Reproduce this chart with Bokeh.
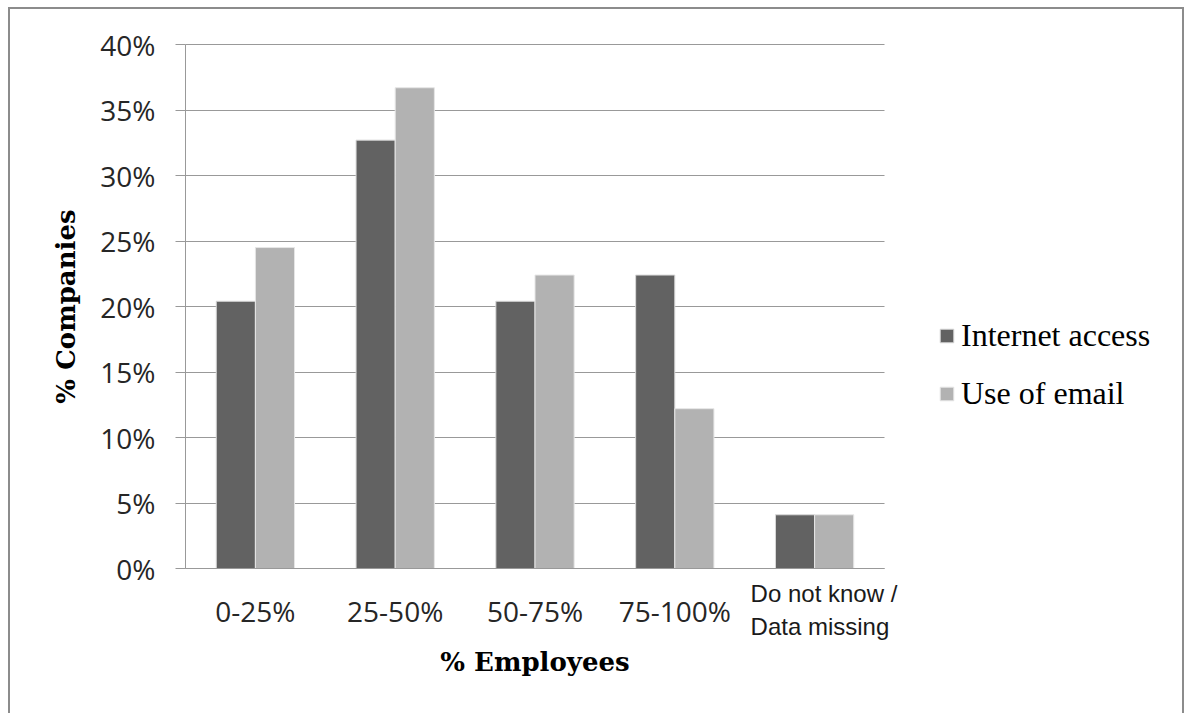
from bokeh.plotting import figure
from bokeh.models import (ColumnDataSource, Range1d, FixedTicker, PrintfTickFormatter,
                          Legend, LegendItem, Label)
from bokeh.embed import file_html
from bokeh.resources import INLINE

categories = ["0-25%", "25-50%", "50-75%", "75-100%", "Do not know / Data missing"]
last_label_lines = ["Do not know /", "Data missing"]
internet_access = [20.4, 32.7, 20.4, 22.4, 4.1]
use_of_email = [24.5, 36.7, 22.4, 12.2, 4.1]
y_ticks = [0, 5, 10, 15, 20, 25, 30, 35, 40]
series_names = ["Internet access", "Use of email"]

n = len(categories)
centers = [i + 0.5 for i in range(n)]
src = ColumnDataSource(dict(
    x1=[c - 0.14 for c in centers], x2=[c + 0.14 for c in centers],
    internet=internet_access, email=use_of_email))

PX_PER_CAT = 139.8
PX_PER_PCT = 13.1
p = figure(width=1176, height=706,
           x_range=Range1d(-175 / PX_PER_CAT, n + 302 / PX_PER_CAT),
           y_range=Range1d(-147 / PX_PER_PCT, 40 + 35 / PX_PER_PCT),
           output_backend="svg", toolbar_location=None,
           min_border_left=0, min_border_right=0, min_border_top=0, min_border_bottom=0,
           margin=(7, 0, 0, 8))
p.styles = {"border-left": "2px solid #8c8c8c", "border-top": "2px solid #8c8c8c",
            "border-right": "2px solid #8c8c8c"}
p.outline_line_color = None
p.background_fill_color = "white"
p.border_fill_color = "white"

r1 = p.vbar(x="x1", top="internet", width=0.28, source=src,
            fill_color="#626262", line_color="#d9d9d9", line_width=1)
r2 = p.vbar(x="x2", top="email", width=0.28, source=src,
            fill_color="#b2b2b2", line_color="#e6e6e6", line_width=1)

# y axis (drawn at x = 0 inside the frame)
p.yaxis.fixed_location = 0
p.yaxis.bounds = (0, 40)
p.yaxis.ticker = FixedTicker(ticks=y_ticks)
p.yaxis.formatter = PrintfTickFormatter(format="%d%%")
p.yaxis.major_tick_out = 10
p.yaxis.major_tick_in = 0
p.yaxis.minor_tick_line_color = None
p.yaxis.axis_line_color = "#999999"
p.yaxis.major_tick_line_color = "#999999"
p.yaxis.major_label_text_font = "Open Sans"
p.yaxis.major_label_text_font_size = "28px"
p.yaxis.major_label_text_color = "#262626"
p.yaxis.major_label_standoff = 20
p.yaxis.axis_label = "% Companies"
p.yaxis.axis_label_text_font = "DejaVu Serif"
p.yaxis.axis_label_text_font_style = "bold"
p.yaxis.axis_label_text_font_size = "26px"
p.yaxis.axis_label_text_color = "black"
p.yaxis.axis_label_standoff = 16

# x axis (drawn at y = 0 inside the frame)
p.xaxis.fixed_location = 0
p.xaxis.bounds = (0, n)
p.xaxis.ticker = FixedTicker(ticks=centers[:4])
p.xaxis.major_label_overrides = {centers[i]: categories[i] for i in range(4)}
p.xaxis.major_tick_out = 0
p.xaxis.major_tick_in = 0
p.xaxis.major_tick_line_color = None
p.xaxis.minor_tick_line_color = None
p.xaxis.axis_line_color = "#999999"
p.xaxis.major_label_text_font = "Open Sans"
p.xaxis.major_label_text_font_size = "28px"
p.xaxis.major_label_text_color = "#262626"
p.xaxis.major_label_standoff = 23
p.xaxis.axis_label = "% Employees"
p.xaxis.axis_label_text_font = "DejaVu Serif"
p.xaxis.axis_label_text_font_style = "bold"
p.xaxis.axis_label_text_font_size = "26px"
p.xaxis.axis_label_text_color = "black"
p.xaxis.axis_label_standoff = 14

p.xgrid.grid_line_color = None
p.ygrid.ticker = FixedTicker(ticks=y_ticks)
p.ygrid.cross_bounds = (0, n)
p.ygrid.grid_line_color = "#999999"
p.ygrid.grid_line_width = 1

for i, line in enumerate(last_label_lines):
    p.add_layout(Label(x=centers[4], y=0, x_offset=-64, y_offset=-25 - 33 * i, text=line,
                       text_font="Liberation Sans", text_font_size="24px", text_color="#1a1a1a",
                       text_baseline="alphabetic", text_align="left"))

legend = Legend(items=[LegendItem(label=series_names[0], renderers=[r1]),
                       LegendItem(label=series_names[1], renderers=[r2])],
                location=(928, 303), padding=0, margin=0, spacing=21,
                glyph_width=17, glyph_height=17, label_standoff=6,
                label_text_font="Liberation Serif", label_text_font_size="32px",
                label_text_color="black", border_line_color=None,
                background_fill_alpha=0)
p.add_layout(legend)

open("out.html", "w").write(file_html(p, INLINE))
